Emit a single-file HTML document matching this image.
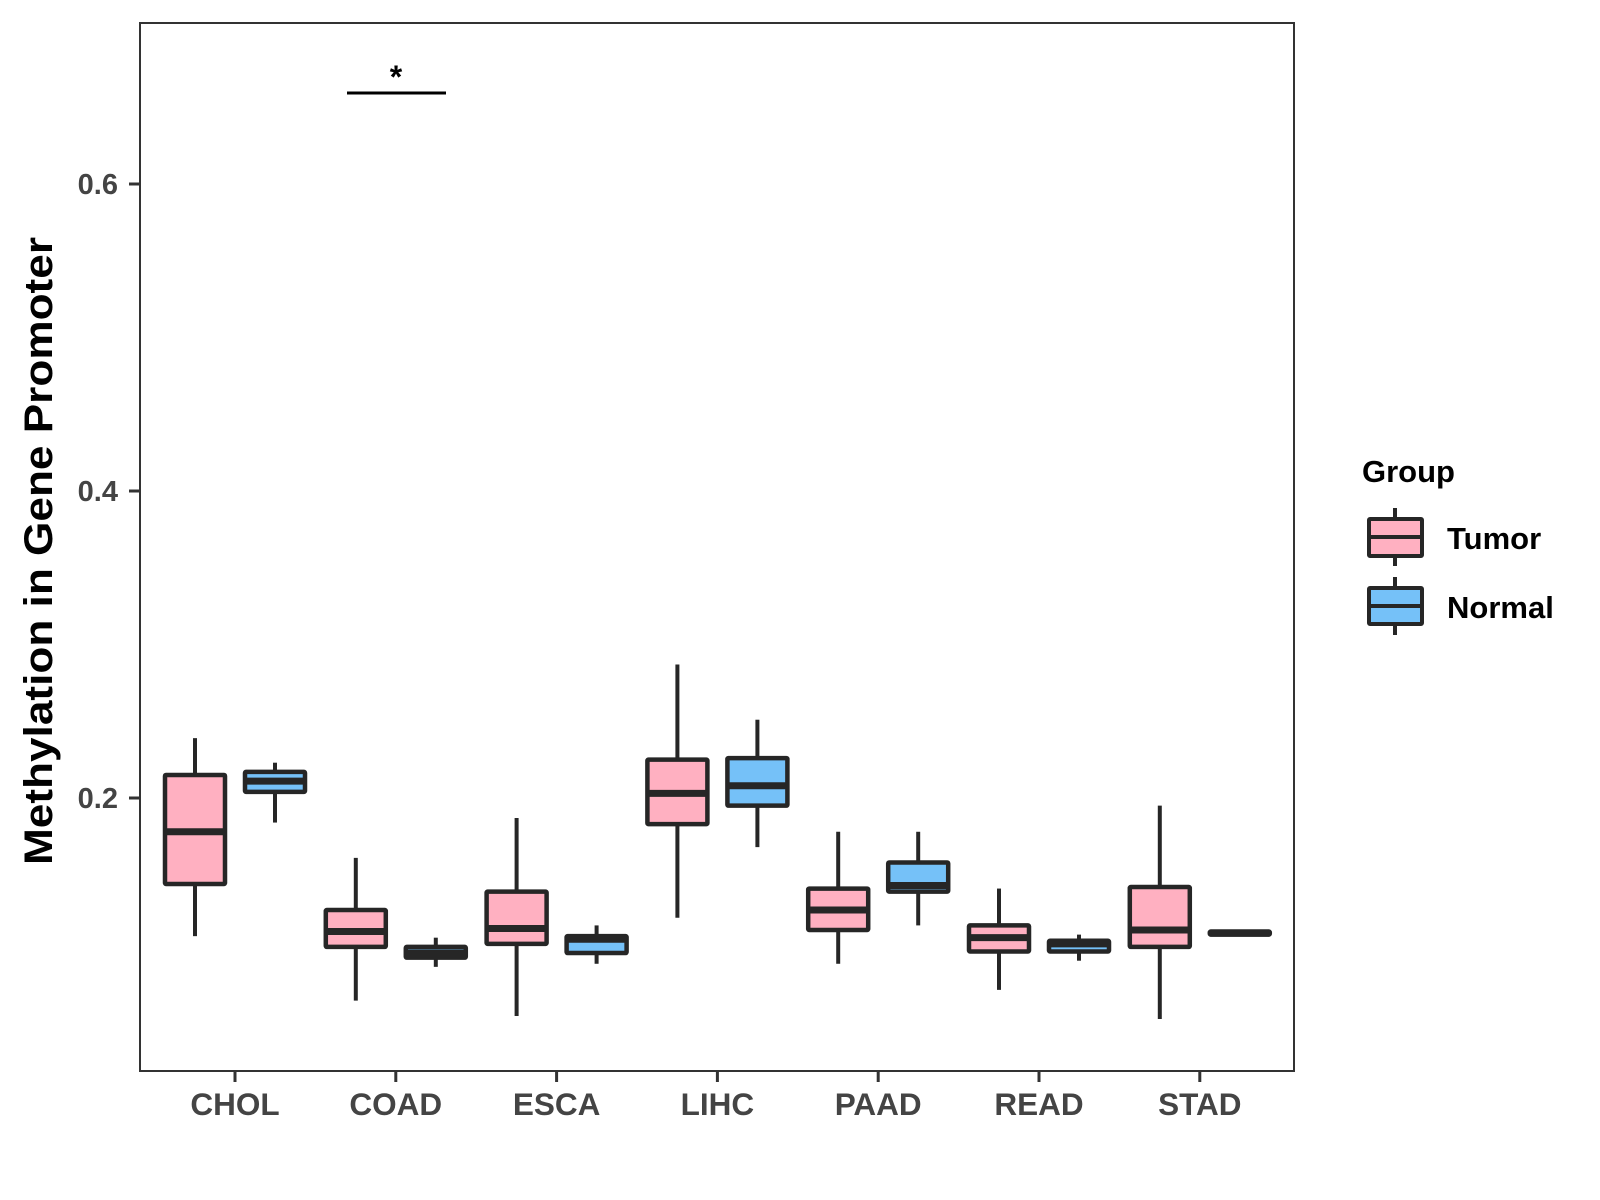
<!DOCTYPE html>
<html><head><meta charset="utf-8"><style>
html,body{margin:0;padding:0;background:#fff;}
svg{display:block;font-family:"Liberation Sans",Arial,sans-serif;font-weight:bold;}
</style></head><body>
<svg id="chart" width="1600" height="1200" viewBox="0 0 1600 1200">
<rect x="0" y="0" width="1600" height="1200" fill="#fff"/>
<g id="marks"></g>
<rect x="140" y="23" width="1154" height="1048" fill="none" stroke="#333" stroke-width="2"/>
<g id="axes"></g>
<text transform="translate(52,551) rotate(-90)" text-anchor="middle" font-size="40" textLength="628" lengthAdjust="spacingAndGlyphs" fill="#000">Methylation in Gene Promoter</text>
<line x1="347" y1="93" x2="446" y2="93" stroke="#000" stroke-width="3"/>
<text x="396" y="88" text-anchor="middle" font-size="32" fill="#000">*</text>
<g>
<text x="1362" y="482" font-size="31" fill="#000">Group</text>
<g>
<line x1="1395" y1="508" x2="1395" y2="566" stroke="#262626" stroke-width="4"/>
<rect x="1369" y="519" width="53" height="37" fill="#FFB0C1" stroke="#262626" stroke-width="4" rx="1"/>
<line x1="1369" y1="537" x2="1422" y2="537" stroke="#262626" stroke-width="4"/>
<text x="1447" y="549" font-size="31" fill="#000">Tumor</text>
</g>
<g>
<line x1="1395" y1="577" x2="1395" y2="635" stroke="#262626" stroke-width="4"/>
<rect x="1369" y="588" width="53" height="36" fill="#75C1F8" stroke="#262626" stroke-width="4" rx="1"/>
<line x1="1369" y1="606" x2="1422" y2="606" stroke="#262626" stroke-width="4"/>
<text x="1447" y="618" font-size="31" fill="#000">Normal</text>
</g>
</g>
</svg>
<script>
const categories = ["CHOL","COAD","ESCA","LIHC","PAAD","READ","STAD"];
const tumorLow = [0.110,0.068,0.058,0.122,0.092,0.075,0.056];
const tumorQ1 = [0.144,0.103,0.105,0.183,0.114,0.100,0.103];
const tumorMed = [0.178,0.113,0.115,0.203,0.127,0.109,0.114];
const tumorQ3 = [0.215,0.127,0.139,0.225,0.141,0.117,0.142];
const tumorHigh = [0.239,0.161,0.187,0.287,0.178,0.141,0.195];
const normalLow = [0.184,0.090,0.092,0.168,0.117,0.094,0.110];
const normalQ1 = [0.204,0.096,0.099,0.195,0.139,0.100,0.111];
const normalMed = [0.211,0.099,0.108,0.208,0.143,0.105,0.112];
const normalQ3 = [0.217,0.103,0.110,0.226,0.158,0.107,0.113];
const normalHigh = [0.223,0.109,0.117,0.251,0.178,0.111,0.114];
const yTicks = [0.2,0.4,0.6];
const yTickLabels = ["0.2","0.4","0.6"];

const NS = "http://www.w3.org/2000/svg";
function yScale(v){ return 1105 - v*1535; }
function xScale(i){ return 235 + i*160.8; }
function mk(tag, attrs, parent){
  const e = document.createElementNS(NS, tag);
  for (const k in attrs) e.setAttribute(k, attrs[k]);
  parent.appendChild(e);
  return e;
}
const marks = document.getElementById('marks');
const axes = document.getElementById('axes');
const BW = 60;
function drawBox(cx, lo, q1, md, q3, hi, fill, name){
  const g = mk('g', {}, marks);
  
  
  const w1 = mk('line', {x1:cx,x2:cx,y1:yScale(hi),y2:yScale(q3),stroke:'#262626','stroke-width':4}, g);
  
  
  const w2 = mk('line', {x1:cx,x2:cx,y1:yScale(q1),y2:yScale(lo),stroke:'#262626','stroke-width':4}, g);
  
  
  const r = mk('rect', {x:cx-BW/2,y:yScale(q3),width:BW,height:Math.max(yScale(q1)-yScale(q3),1),fill:fill,stroke:'#262626','stroke-width':4.5,rx:1}, g);
  
  
  const m = mk('line', {x1:cx-BW/2,x2:cx+BW/2,y1:yScale(md),y2:yScale(md),stroke:'#262626','stroke-width':7}, g);
  
  
}
categories.forEach((c, i) => {
  const cx = xScale(i);
  drawBox(cx-40, tumorLow[i], tumorQ1[i], tumorMed[i], tumorQ3[i], tumorHigh[i], '#FFB0C1', 'box-tumor-' + c.toLowerCase());
  drawBox(cx+40, normalLow[i], normalQ1[i], normalMed[i], normalQ3[i], normalHigh[i], '#75C1F8', 'box-normal-' + c.toLowerCase());
  const t = mk('line', {x1:cx,x2:cx,y1:1071,y2:1082,stroke:'#333','stroke-width':3}, axes);
  
  
  const lb = mk('text', {x:cx,y:1115,'text-anchor':'middle','font-size':31.5,fill:'#444'}, axes);
  lb.textContent = c;
  
  
});
yTicks.forEach((v, i) => {
  const y = yScale(v);
  const t = mk('line', {x1:129,x2:140,y1:y,y2:y,stroke:'#333','stroke-width':3}, axes);
  
  
  const lb = mk('text', {x:118,y:y+10,'text-anchor':'end','font-size':29,fill:'#444'}, axes);
  lb.textContent = yTickLabels[i];
  
  
});
</script>
</body></html>
